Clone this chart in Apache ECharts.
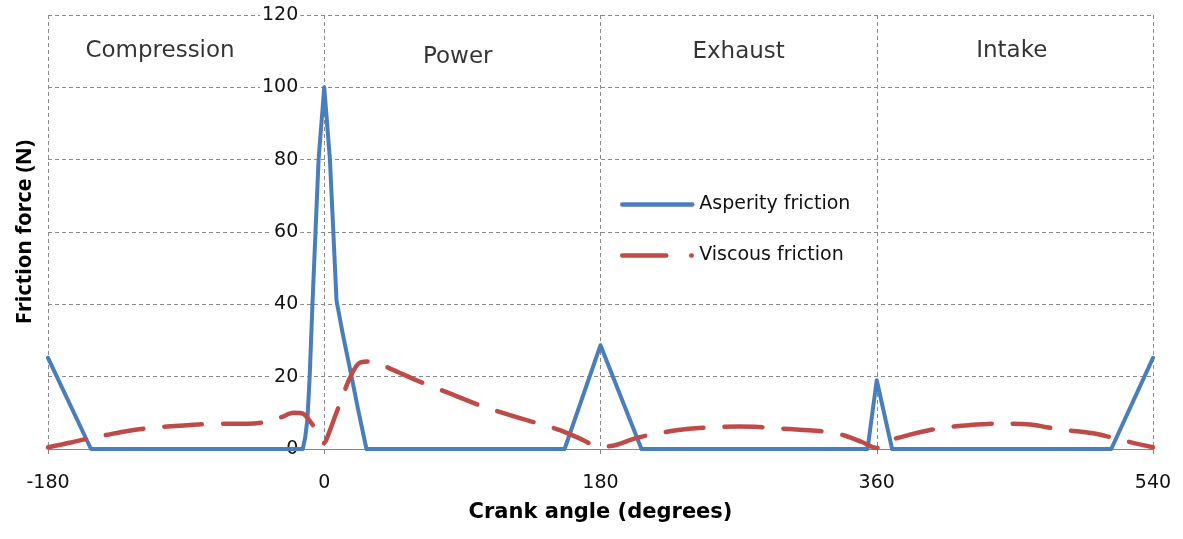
<!DOCTYPE html>
<html><head><meta charset="utf-8">
<script src="https://cdn.jsdelivr.net/npm/echarts@6/dist/echarts.min.js"></script>
<style>html,body{margin:0;padding:0;background:#fff}#c{width:1183px;height:539px}</style>
</head><body><div id="c"></div>
<script>
// Asperity friction (blue, solid)
const asperityAngles = [-180,-152,-14,-12.5,-11,-9.5,-7.6,-3.7,0,3.7,8,12,17.8,22,27.5,156.6,180,206.7,354,360,370,512.8,540];
const asperityValues = [25.2,0,0,3,8,20,41,80,100,80,41,32,20,11,0,0,28.7,0,0,19,0,0,25.2];

// Viscous friction (red, dashed)
const viscousAngles = [-180,-165,-153,-142,-128,-114,-100,-82,-65,-50,-38,-28,-20,-14,-9,-4,0,3,7,10.6,16,22,28,33,40,48,60,81,100,120,140,153,166,180,190,203,218,232,244,258,270,283,296,310,329,340,350,360,366,381,394,408,420,440,460,471,484,500,512,524,532,540];
const viscousValues = [0.5,1.8,3,3.9,5,5.8,6.3,6.8,7,7,7.5,8.8,10,9.8,7.5,4.6,1.6,4.4,9,13,19,23.5,24.2,24,22.8,21.3,19,15.5,12.3,9.5,7,5.3,3,0.6,1.1,3,4.4,5.3,5.8,6.1,6.2,6.1,5.7,5.3,4.7,3.6,2,0.3,2,3.9,5.2,6.1,6.6,7,6.8,6,5.2,4.4,3.3,2,1.2,0.5];

// Stroke phase labels
const phaseNames = ['Compression','Power','Exhaust','Intake'];
const phaseAngles = [-107,87,270,448];
const phaseLevels = [110,108.4,109.8,110];

const xTicks = [-180,0,180,360,540];
const yTicks = [0,20,40,60,80,100,120];

const seriesNames = ['Asperity friction','Viscous friction'];

function pairs(xs, ys){ return xs.map((x,i)=>[x, ys[i]]); }

const W = 1183;
const GRID = {left:48, right:30, top:15, bottom:90};
const xMin = xTicks[0], xMax = xTicks[xTicks.length-1];
// place the value axis where the angle is 0 (like Excel's crossing)
const yAxisOffset = -((W - GRID.left - GRID.right) * (0 - xMin) / (xMax - xMin));

const chart = echarts.init(document.getElementById('c'), null, {renderer:'canvas'});
const gridDash = {color:'#8a8a8a', type:[4,3], width:1};
const hFont = 'DejaVu Sans';
const BLUE = '#4a7ebb', RED = '#be4b48';
const hidden = {color:'rgba(0,0,0,0)', borderColor:'rgba(0,0,0,0)', borderWidth:0};

chart.setOption({
  backgroundColor:'#ffffff',
  animation:false,
  grid:Object.assign({containLabel:false, outerBoundsMode:'none'}, GRID),
  legend:{
    data:[
      {name:seriesNames[0], itemStyle:hidden, lineStyle:{color:BLUE, width:4.5, type:'solid', cap:'round'}},
      {name:seriesNames[1], itemStyle:hidden, lineStyle:{color:RED, width:4.5, type:[44,25,0.5,40], cap:'round'}}
    ],
    orient:'vertical',
    left:615, top:190,
    itemWidth:70, itemHeight:14, itemGap:32,
    textStyle:{fontFamily:hFont, fontSize:19, color:'#111', padding:[0,0,0,2]}
  },
  xAxis:{
    type:'value',
    min:xMin, max:xMax, interval:180,
    name:'Crank angle (degrees)',
    nameLocation:'middle', nameGap:53,
    nameTextStyle:{fontFamily:hFont, fontWeight:'bold', fontSize:21, color:'#000'},
    axisLine:{onZero:false, lineStyle:{color:'#868686', width:1}},
    axisTick:{show:true, length:5, lineStyle:{color:'#868686'}},
    axisLabel:{margin:25, fontFamily:hFont, fontSize:19, color:'#111'},
    splitLine:{show:true, lineStyle:gridDash}
  },
  yAxis:[{
    type:'value', position:'left', offset:yAxisOffset,
    min:yTicks[0], max:yTicks[yTicks.length-1], interval:20,
    axisLine:{show:false, onZero:false},
    axisTick:{show:false},
    axisLabel:{margin:24, fontFamily:hFont, fontSize:19, color:'#111', backgroundColor:'#fff', padding:[0,2,0,2]},
    splitLine:{show:true, lineStyle:gridDash}
  },{
    type:'value', position:'left',
    min:yTicks[0], max:yTicks[yTicks.length-1], interval:20,
    name:'Friction force (N)',
    nameLocation:'middle', nameGap:12,
    nameTextStyle:{fontFamily:'Noto Sans', fontWeight:'bold', fontSize:22, color:'#000'},
    axisLine:{show:false, onZero:false},
    axisTick:{show:false}, axisLabel:{show:false}, splitLine:{show:false}
  }],
  series:[{
    name:seriesNames[0], type:'line', data:pairs(asperityAngles, asperityValues),
    symbol:'none', z:3,
    lineStyle:{color:BLUE, width:4, join:'round', cap:'round'},
    itemStyle:{color:BLUE}
  },{
    name:seriesNames[1], type:'line', data:pairs(viscousAngles, viscousValues),
    symbol:'none', smooth:0.3, z:4,
    lineStyle:{color:RED, width:4.5, type:[38,21], cap:'round', join:'round'},
    itemStyle:{color:RED}
  },{
    name:'phases', type:'scatter', symbolSize:0, silent:true,
    data:phaseAngles.map((a,i)=>({value:[a, phaseLevels[i]], name:phaseNames[i]})),
    label:{show:true, position:'inside', formatter:p=>p.name, fontFamily:hFont, fontSize:23, color:'#000'},
    z:5
  }]
});
</script>
</body></html>
